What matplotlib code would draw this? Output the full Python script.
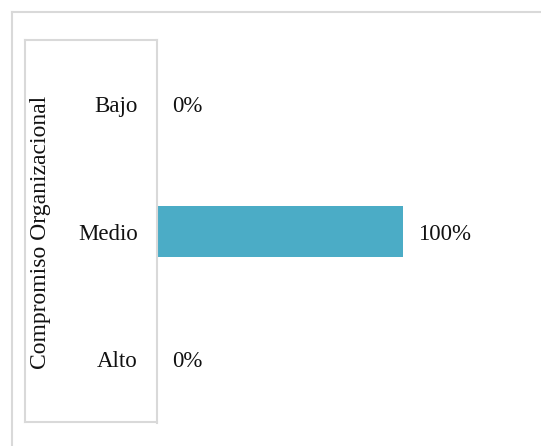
import matplotlib.pyplot as plt
from matplotlib.lines import Line2D

categories = ['Bajo', 'Medio', 'Alto']
values = [0, 100, 0]
labels = ['0%', '100%', '0%']

plt.rcParams['font.family'] = ['Liberation Serif', 'DejaVu Serif']

W, H = 541, 446
fig = plt.figure(figsize=(W / 100, H / 100), dpi=100)

def fx(px):
    return px / W

def fy(py):
    return 1 - py / H

ax = fig.add_axes([fx(157), fy(423), fx(526) - fx(157), fy(40) - fy(423)])
ypos = list(range(len(categories)))
ax.barh(ypos, values, height=0.4, color='#4BACC6')
ax.set_ylim(len(categories) - 0.5, -0.5)
ax.set_xlim(0, 150)
ax.set_yticks(ypos)
ax.set_yticklabels(categories, fontsize=16.5, color='#111111')
ax.tick_params(axis='y', length=0, pad=14)
ax.set_xticks([])
for s in ['top', 'right', 'bottom']:
    ax.spines[s].set_visible(False)
ax.spines['left'].set_color('#d9d9d9')
ax.spines['left'].set_linewidth(1.5)

for y, v, lab in zip(ypos, values, labels):
    ax.annotate(lab, (v, y), xytext=(11, 0), textcoords='offset points',
                va='center_baseline', ha='left', fontsize=16.5, color='#111111')

fig.text(fx(41), fy(232), 'Compromiso Organizacional', rotation=90,
         ha='center', va='center', fontsize=17, color='#111111')

grey = '#d9d9d9'
# label box
fig.add_artist(Line2D([fx(25), fx(157)], [fy(40), fy(40)], color=grey, lw=1.5))
fig.add_artist(Line2D([fx(25), fx(25)], [fy(40), fy(422)], color=grey, lw=1.5))
fig.add_artist(Line2D([fx(25), fx(157)], [fy(422), fy(422)], color=grey, lw=1.5))
# outer frame
fig.add_artist(Line2D([fx(12), 1], [fy(12), fy(12)], color=grey, lw=1.5))
fig.add_artist(Line2D([fx(12), fx(12)], [fy(12), 0], color=grey, lw=1.5))

fig.savefig('out.png', dpi=100)
